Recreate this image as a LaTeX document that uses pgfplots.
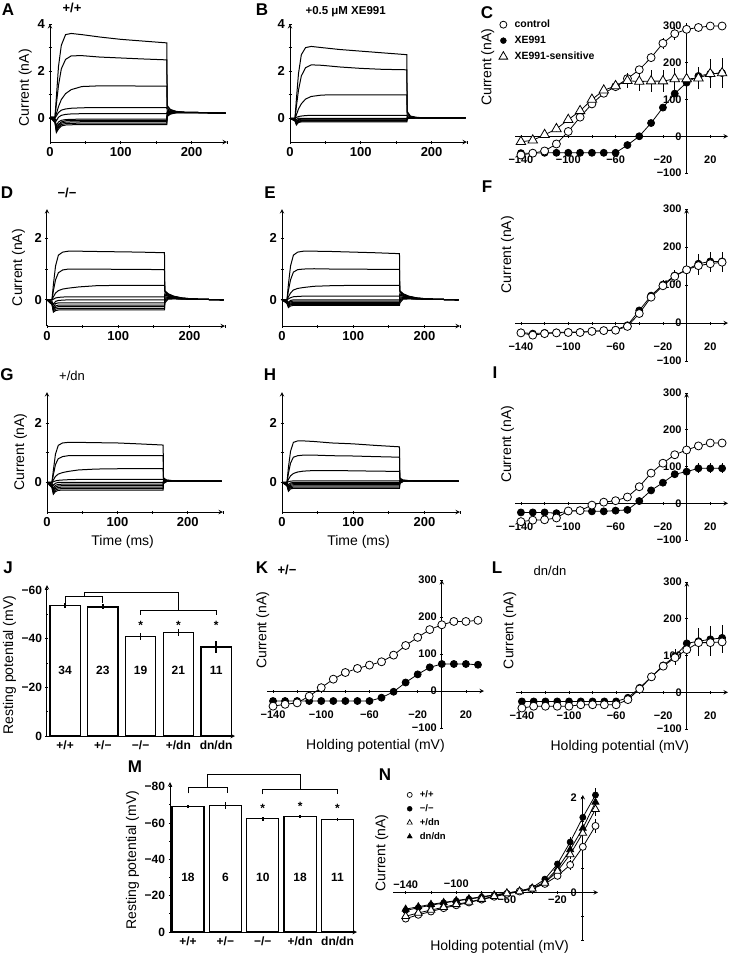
\documentclass[border=0pt]{standalone}
\usepackage{fontspec}
\setmainfont{Liberation Sans}
\usepackage{pgfplots}
\usepackage{pgfplotstable}
\pgfplotsset{compat=1.18}
\newcommand\lab{\fontsize{14}{14}\selectfont}
\newcommand\pl{\fontsize{17}{17}\selectfont\bfseries}
\newcommand\gt{\fontsize{13}{13}\selectfont\bfseries}
\newcommand\gr{\fontsize{13}{13}\selectfont}
\newcommand\nb{\fontsize{12}{12}\selectfont\bfseries}

\pgfplotsset{
  base/.style={scale only axis, anchor=south west, enlargelimits=false, clip=false,
    axis line style={line width=1pt,-}, tick style={line width=0.8pt,black},
    major tick length=3pt, minor tick length=2pt, tick align=inside},
  trace/.style={base, axis x line=bottom, axis y line=left, xmin=0, xmax=250,
    xtick={0,50,...,250}, xticklabels={0,,100,,200,},
    ticklabel style={font=\fontsize{13}{13}\selectfont\bfseries}},
  tr/.style={black, line width=1pt, no marks},
  iv/.style={base, axis lines=middle, xmin=-145, xmax=35, ymin=-100, ymax=300,
    xtick={-140,-120,...,20}, xticklabels={−140,,−100,,−60,,−20,,20},
    ytick={-100,0,100,200,300}, yticklabels={−100,0,100,200,300},
    hide obscured x ticks=false, hide obscured y ticks=false,
    ticklabel style={font=\fontsize{11}{11}\selectfont\bfseries},
    xticklabel style={yshift=-15pt}},
  eb/.style={error bars/y dir=both, error bars/y explicit, error bars/error mark=none,
    error bars/error bar style={line width=0.8pt}},
  oc/.style={black, line width=0.8pt, mark=*, mark size=4pt, mark options={fill=white, line width=0.8pt}, eb},
  fc/.style={black, line width=0.8pt, mark=*, mark size=3.5pt, mark options={fill=black}, eb},
  ot/.style={black, line width=0.8pt, mark=triangle*, mark size=5.5pt, mark options={fill=white, line width=0.8pt}, eb},
  bars/.style={base, axis x line=bottom, axis y line=left, xmin=-0.48, xmax=4.52,
    xtick={0,...,4}, xticklabels={+/+,+/−,−/−,+/dn,dn/dn}, xtick style={draw=none},
    ticklabel style={font=\fontsize{12}{12}\selectfont\bfseries}},
  bar/.style={ybar, bar shift=0pt, fill=white, draw=black, line width=1.3pt, eb, error bars/error bar style={line width=1.5pt}},
}

% ---------- trace tables ----------
\pgfplotstableread{
t a b c d e f g h i j
0 0.05 0.05 0.05 0.05 0.05 0.05 0.05 0.05 0.05 0.05
7 0.05 0.05 0.03 0.02 0 -0.05 -0.1 -0.12 -0.15 -0.18
9 0.9 0.6 0.2 0.1 -0.1 -0.3 -0.4 -0.48 -0.55 -0.6
12 2.2 1.4 0.5 0.25 0.05 -0.15 -0.25 -0.32 -0.38 -0.45
16 3.1 2.1 0.8 0.35 0.13 -0.08 -0.15 -0.2 -0.26 -0.32
22 3.55 2.5 1.05 0.4 0.17 -0.05 -0.1 -0.16 -0.22 -0.28
30 3.6 2.65 1.22 0.43 0.19 -0.04 -0.09 -0.15 -0.21 -0.27
45 3.55 2.66 1.35 0.45 0.2 -0.03 -0.08 -0.14 -0.2 -0.26
70 3.45 2.6 1.38 0.46 0.2 -0.03 -0.08 -0.14 -0.2 -0.26
100 3.35 2.56 1.38 0.46 0.2 -0.03 -0.08 -0.14 -0.2 -0.26
130 3.28 2.52 1.37 0.46 0.2 -0.03 -0.08 -0.14 -0.2 -0.26
165 3.2 2.48 1.37 0.46 0.2 -0.03 -0.08 -0.14 -0.2 -0.26
165.5 0.55 0.5 0.42 0.35 0.3 0.25 0.2 0.15 0.12 0.08
170 0.38 0.36 0.33 0.3 0.28 0.26 0.24 0.22 0.2 0.18
178 0.3 0.29 0.28 0.27 0.26 0.25 0.25 0.25 0.24 0.24
190 0.26 0.26 0.26 0.26 0.25 0.25 0.25 0.25 0.25 0.25
210 0.25 0.25 0.25 0.25 0.25 0.25 0.25 0.25 0.25 0.25
248 0.22 0.22 0.22 0.22 0.22 0.22 0.22 0.22 0.22 0.22
}\tA
\pgfplotstableread{
t a b c d e f g h i j
0 0 0 0 0 0 0 0 0 0 0
7 0 0 0 0 0 -0.03 -0.05 -0.07 -0.09 -0.11
9 0.8 0.5 0.15 0.04 -0.05 -0.12 -0.16 -0.2 -0.24 -0.28
12 1.9 1.2 0.4 0.08 0.01 -0.05 -0.08 -0.11 -0.14 -0.17
16 2.7 1.8 0.62 0.1 0 -0.03 -0.06 -0.09 -0.12 -0.15
22 3.0 2.15 0.82 0.12 0 -0.03 -0.06 -0.09 -0.12 -0.15
30 3.05 2.27 0.93 0.13 0 -0.03 -0.06 -0.09 -0.12 -0.15
45 3.0 2.25 0.99 0.13 0 -0.03 -0.06 -0.09 -0.12 -0.15
70 2.92 2.18 1.0 0.13 0 -0.03 -0.06 -0.09 -0.12 -0.15
100 2.85 2.12 1.0 0.13 0 -0.03 -0.06 -0.09 -0.12 -0.15
130 2.78 2.08 1.0 0.13 0 -0.03 -0.06 -0.09 -0.12 -0.15
165 2.7 2.06 1.0 0.13 0 -0.03 -0.06 -0.09 -0.12 -0.15
165.5 0.3 0.25 0.15 0.08 0.04 0.02 0.01 0 -0.01 -0.02
170 0.1 0.08 0.06 0.04 0.03 0.02 0.02 0.01 0.01 0.01
178 0.05 0.04 0.03 0.03 0.02 0.02 0.02 0.02 0.02 0.02
190 0.02 0.02 0.02 0.02 0.02 0.02 0.02 0.02 0.02 0.02
210 0.02 0.02 0.02 0.02 0.02 0.02 0.02 0.02 0.02 0.02
248 0.02 0.02 0.02 0.02 0.02 0.02 0.02 0.02 0.02 0.02
}\tB
\pgfplotstableread{
t a b c d e f g h i j
0 0 0 0 0 0 0 0 0 0 0
7 0 0 0 0 -0.05 -0.08 -0.1 -0.12 -0.14 -0.16
9 0.5 0.3 0.1 0.02 -0.15 -0.25 -0.3 -0.33 -0.36 -0.4
12 1.1 0.65 0.22 0.06 -0.05 -0.12 -0.2 -0.25 -0.3 -0.35
16 1.45 0.88 0.3 0.08 -0.02 -0.1 -0.17 -0.22 -0.28 -0.33
22 1.55 0.97 0.35 0.09 -0.01 -0.1 -0.17 -0.22 -0.28 -0.33
30 1.58 1.0 0.38 0.1 0 -0.1 -0.17 -0.22 -0.28 -0.33
45 1.58 1.0 0.42 0.1 0 -0.1 -0.17 -0.22 -0.28 -0.33
70 1.57 1.0 0.46 0.1 0 -0.1 -0.17 -0.22 -0.28 -0.33
100 1.56 0.99 0.47 0.1 0 -0.1 -0.17 -0.22 -0.28 -0.33
130 1.55 0.99 0.47 0.1 0 -0.1 -0.17 -0.22 -0.28 -0.33
165 1.53 0.98 0.47 0.1 0 -0.1 -0.17 -0.22 -0.28 -0.33
165.5 0.3 0.28 0.25 0.2 0.15 0.1 0.05 0 -0.05 -0.1
170 0.2 0.19 0.17 0.14 0.12 0.1 0.08 0.06 0.04 0.02
178 0.12 0.11 0.1 0.09 0.08 0.07 0.06 0.05 0.04 0.03
190 0.06 0.06 0.05 0.05 0.04 0.04 0.03 0.03 0.03 0.02
210 0.02 0.02 0.02 0.02 0.02 0.02 0.02 0.02 0.02 0.02
248 0 0 0 0 0 0 0 0 0 0
}\tD
\pgfplotstableread{
t a b c d e f g h i j
0 0 0 0 0 0 0 0 0 0 0
7 0 0 0 0 -0.02 -0.04 -0.06 -0.08 -0.1 -0.12
9 0.5 0.3 0.1 0.03 -0.08 -0.12 -0.15 -0.18 -0.22 -0.25
12 1.1 0.65 0.22 0.07 -0.02 -0.06 -0.1 -0.13 -0.16 -0.2
16 1.45 0.9 0.32 0.1 0 -0.04 -0.08 -0.12 -0.15 -0.18
22 1.55 0.98 0.37 0.11 0 -0.04 -0.08 -0.12 -0.15 -0.18
30 1.58 1.0 0.4 0.12 0 -0.04 -0.08 -0.12 -0.15 -0.18
45 1.58 1.01 0.44 0.12 0 -0.04 -0.08 -0.12 -0.15 -0.18
70 1.57 1.0 0.46 0.12 0 -0.04 -0.08 -0.12 -0.15 -0.18
100 1.55 1.0 0.47 0.12 0 -0.04 -0.08 -0.12 -0.15 -0.18
130 1.53 0.99 0.47 0.12 0 -0.04 -0.08 -0.12 -0.15 -0.18
165 1.5 0.99 0.47 0.12 0 -0.04 -0.08 -0.12 -0.15 -0.18
165.5 0.3 0.28 0.25 0.2 0.15 0.1 0.05 0 -0.05 -0.1
170 0.2 0.19 0.17 0.14 0.12 0.1 0.08 0.06 0.04 0.02
178 0.12 0.11 0.1 0.09 0.08 0.07 0.06 0.05 0.04 0.03
190 0.06 0.06 0.05 0.05 0.04 0.04 0.03 0.03 0.03 0.02
210 0.02 0.02 0.02 0.02 0.02 0.02 0.02 0.02 0.02 0.02
248 0 0 0 0 0 0 0 0 0 0
}\tE
\pgfplotstableread{
t a b c d e f g h i j
0 0 0 0 0 0 0 0 0 0 0
7 0 0 0 0 -0.03 -0.06 -0.09 -0.12 -0.15 -0.18
9 0.4 0.25 0.08 0.02 -0.1 -0.2 -0.26 -0.3 -0.35 -0.4
12 0.95 0.6 0.2 0.05 -0.03 -0.1 -0.16 -0.21 -0.26 -0.31
16 1.25 0.8 0.28 0.07 0 -0.07 -0.12 -0.17 -0.22 -0.27
22 1.33 0.87 0.33 0.08 0 -0.06 -0.11 -0.16 -0.21 -0.26
30 1.35 0.9 0.37 0.09 0 -0.06 -0.11 -0.16 -0.21 -0.26
45 1.35 0.9 0.42 0.1 0 -0.06 -0.11 -0.16 -0.21 -0.26
70 1.34 0.9 0.45 0.1 0 -0.06 -0.11 -0.16 -0.21 -0.26
100 1.33 0.9 0.46 0.1 0 -0.06 -0.11 -0.16 -0.21 -0.26
130 1.3 0.9 0.46 0.1 0 -0.06 -0.11 -0.16 -0.21 -0.26
165 1.26 0.9 0.46 0.1 0 -0.06 -0.11 -0.16 -0.21 -0.26
165.5 0.15 0.12 0.1 0.08 0.06 0.04 0.02 0 -0.02 -0.04
170 0.08 0.07 0.07 0.06 0.05 0.05 0.04 0.04 0.03 0.03
178 0.06 0.06 0.05 0.05 0.05 0.05 0.05 0.05 0.05 0.05
190 0.05 0.05 0.05 0.05 0.05 0.05 0.05 0.05 0.05 0.05
210 0.05 0.05 0.05 0.05 0.05 0.05 0.05 0.05 0.05 0.05
248 0.04 0.04 0.04 0.04 0.04 0.04 0.04 0.04 0.04 0.04
}\tG
\pgfplotstableread{
t a b c d e f g h i j
0 0 0 0 0 0 0 0 0 0 0
7 0 0 0 0 -0.02 -0.04 -0.06 -0.08 -0.1 -0.12
9 0.5 0.3 0.1 0.02 -0.08 -0.14 -0.18 -0.22 -0.26 -0.3
12 1.05 0.65 0.22 0.04 -0.02 -0.06 -0.1 -0.14 -0.18 -0.22
16 1.35 0.85 0.3 0.05 0 -0.04 -0.08 -0.12 -0.16 -0.2
22 1.4 0.9 0.35 0.05 0 -0.04 -0.08 -0.12 -0.16 -0.2
30 1.4 0.92 0.38 0.05 0 -0.04 -0.08 -0.12 -0.16 -0.2
45 1.38 0.92 0.4 0.05 0 -0.04 -0.08 -0.12 -0.16 -0.2
70 1.33 0.9 0.4 0.05 0 -0.04 -0.08 -0.12 -0.16 -0.2
100 1.3 0.89 0.39 0.05 0 -0.04 -0.08 -0.12 -0.16 -0.2
130 1.25 0.87 0.38 0.05 0 -0.04 -0.08 -0.12 -0.16 -0.2
165 1.2 0.85 0.37 0.05 0 -0.04 -0.08 -0.12 -0.16 -0.2
165.5 0.15 0.12 0.1 0.08 0.06 0.04 0.02 0 -0.02 -0.04
170 0.08 0.07 0.07 0.06 0.05 0.05 0.04 0.04 0.03 0.03
178 0.06 0.06 0.05 0.05 0.05 0.05 0.05 0.05 0.05 0.05
190 0.05 0.05 0.05 0.05 0.05 0.05 0.05 0.05 0.05 0.05
210 0.05 0.05 0.05 0.05 0.05 0.05 0.05 0.05 0.05 0.05
248 0.04 0.04 0.04 0.04 0.04 0.04 0.04 0.04 0.04 0.04
}\tH

% ---------- I-V tables ----------
\pgfplotstableread{
V c ce x xe s se
-140 -51 5 -46 3 -15 6
-130 -46 5 -46 3 -11 6
-120 -40 5 -45 3 4 6
-110 -21 8 -45 3 20 8
-100 13 8 -45 3 45 10
-90 52 8 -45 3 69 10
-80 88 10 -45 3 100 12
-70 117 10 -45 3 125 15
-60 135 10 -45 3 137 15
-50 157 10 -24 3 151 20
-40 181 10 0 3 149 25
-30 214 12 36 4 150 30
-20 253 15 78 5 150 30
-10 279 18 116 6 156 30
0 291 18 146 8 156 30
10 296 12 164 10 158 30
20 300 8 170 12 170 40
30 300 8 172 12 172 40
}\tC
\pgfplotstableread{
V c ce f fe
-140 -26 6 -25 5
-130 -32 6 -28 5
-120 -28 6 -26 5
-110 -26 6 -25 5
-100 -25 6 -24 5
-90 -25 6 -24 5
-80 -22 6 -22 5
-70 -20 6 -20 5
-60 -19 6 -18 5
-50 -9 6 -6 5
-40 25 8 33 8
-30 68 10 72 10
-20 98 12 101 12
-10 123 15 125 15
0 140 20 140 20
10 151 25 156 25
20 156 22 162 25
30 160 25 162 25
}\tF
\pgfplotstableread{
V c ce f fe
-140 -50 6 -25 5
-130 -46 6 -25 5
-120 -45 6 -25 5
-110 -40 6 -27 5
-100 -21 5 -22 5
-90 -20 5 -20 5
-80 -5 5 -22 5
-70 3 5 -22 5
-60 7 5 -20 5
-50 17 5 -18 5
-40 45 6 6 5
-30 82 8 35 6
-20 109 8 56 8
-10 132 8 79 10
0 145 8 86 12
10 156 8 95 14
20 164 8 95 14
30 164 8 95 14
}\tI
\pgfplotstableread{
V c ce f fe
-140 -41 8 -27 6
-130 -36 8 -27 6
-120 -32 8 -27 6
-110 -14 8 -27 6
-100 9 8 -27 6
-90 32 8 -27 6
-80 50 8 -27 6
-70 61 10 -27 6
-60 70 10 -27 6
-50 79 10 -18 6
-40 97 10 -2 5
-30 123 10 23 5
-20 145 10 45 5
-10 166 10 64 5
0 179 10 73 6
10 188 10 73 6
20 188 10 73 6
30 191 10 71 6
}\tK
\pgfplotstableread{
V c ce f fe
-140 -43 6 -25 6
-130 -38 6 -25 6
-120 -38 6 -25 6
-110 -38 6 -25 6
-100 -38 6 -25 6
-90 -34 6 -25 6
-80 -34 6 -25 6
-70 -34 6 -25 6
-60 -34 6 -25 6
-50 -20 6 -15 6
-40 9 6 12 6
-30 42 8 42 8
-20 71 10 73 10
-10 94 20 98 20
0 116 25 133 30
10 135 35 139 35
20 135 35 144 35
30 137 30 148 35
}\tL
\pgfplotstableread{
V a ae b be c ce d de
-140 -0.55 0.05 -0.38 0.05 -0.5 0.05 -0.35 0.05
-130 -0.47 0.05 -0.32 0.05 -0.43 0.05 -0.3 0.05
-120 -0.4 0.04 -0.27 0.04 -0.37 0.04 -0.25 0.04
-110 -0.33 0.04 -0.22 0.04 -0.31 0.04 -0.21 0.04
-100 -0.27 0.03 -0.18 0.03 -0.25 0.03 -0.17 0.03
-90 -0.21 0.03 -0.14 0.03 -0.2 0.03 -0.13 0.03
-80 -0.15 0.03 -0.1 0.03 -0.14 0.03 -0.09 0.03
-70 -0.09 0.03 -0.06 0.03 -0.08 0.03 -0.05 0.03
-60 -0.03 0.03 -0.02 0.03 -0.02 0.03 -0.01 0.03
-50 0.02 0.03 0.03 0.03 0.02 0.03 0.03 0.03
-40 0.08 0.03 0.1 0.03 0.08 0.03 0.09 0.03
-30 0.18 0.04 0.28 0.04 0.2 0.04 0.22 0.04
-20 0.35 0.06 0.6 0.06 0.45 0.06 0.5 0.06
-10 0.58 0.1 1.06 0.1 0.8 0.1 0.9 0.1
0 0.96 0.12 1.58 0.12 1.25 0.12 1.35 0.12
10 1.4 0.15 2.05 0.15 1.75 0.15 1.9 0.15
}\tN

\begin{document}
\begin{tikzpicture}
\useasboundingbox (0,0) rectangle (732pt,-956pt);

% ===== A =====
\begin{axis}[trace, at={(50pt,-142pt)}, width=177pt, height=118pt, ymin=-1, ymax=4,
  ytick={0,1,2,3,4}, yticklabels={0,,2,,4}]
\pgfplotsinvokeforeach{a,b,c,d,e,f,g,h,i,j}{\addplot[tr] table[x=t,y=#1]{\tA};}
\node[rotate=90,font=\lab] at (rel axis cs:-0.14,0.46) {Current (nA)};
\end{axis}
% ===== B =====
\begin{axis}[trace, at={(290pt,-142pt)}, width=177pt, height=118pt, ymin=-1, ymax=4,
  ytick={0,1,2,3,4}, yticklabels={0,,2,,4}]
\pgfplotsinvokeforeach{a,b,c,d,e,f,g,h,i,j}{\addplot[tr] table[x=t,y=#1]{\tB};}
\end{axis}
% ===== D =====
\begin{axis}[trace, at={(47pt,-326pt)}, width=178pt, height=117pt, ymin=-0.85, ymax=2.95,
  ytick={0,1,2}, yticklabels={0,,2}]
\pgfplotsinvokeforeach{a,b,c,d,e,f,g,h,i,j}{\addplot[tr] table[x=t,y=#1]{\tD};}
\node[rotate=90,font=\lab] at (rel axis cs:-0.16,0.5) {Current (nA)};
\end{axis}
% ===== E =====
\begin{axis}[trace, at={(282pt,-326pt)}, width=178pt, height=117pt, ymin=-0.85, ymax=2.95,
  ytick={0,1,2}, yticklabels={0,,2}]
\pgfplotsinvokeforeach{a,b,c,d,e,f,g,h,i,j}{\addplot[tr] table[x=t,y=#1]{\tE};}
\end{axis}
% ===== G =====
\begin{axis}[trace, at={(47pt,-512pt)}, width=176pt, height=120pt, ymin=-1, ymax=3.05,
  ytick={0,1,2}, yticklabels={0,,2}]
\pgfplotsinvokeforeach{a,b,c,d,e,f,g,h,i,j}{\addplot[tr] table[x=t,y=#1]{\tG};}
\node[rotate=90,font=\lab] at (rel axis cs:-0.15,0.5) {Current (nA)};
\node[font=\lab] at (rel axis cs:0.43,-0.25) {Time (ms)};
\end{axis}
% ===== H =====
\begin{axis}[trace, at={(282pt,-512pt)}, width=178pt, height=120pt, ymin=-1, ymax=3.05,
  ytick={0,1,2}, yticklabels={0,,2}]
\pgfplotsinvokeforeach{a,b,c,d,e,f,g,h,i,j}{\addplot[tr] table[x=t,y=#1]{\tH};}
\node[font=\lab] at (rel axis cs:0.43,-0.25) {Time (ms)};
\end{axis}

% ===== C =====
\begin{axis}[iv, at={(515pt,-173pt)}, width=213pt, height=147pt,
  legend style={draw=none, fill=none, at={(rel axis cs:-0.08,1.055)}, anchor=north west,
    font=\fontsize{10.5}{10.5}\selectfont\bfseries, row sep=3pt, inner sep=0pt,
    cells={anchor=west}},
  legend image code/.code={\draw[#1] plot coordinates {(0pt,0pt)}; \path (-5pt,0pt) (9pt,0pt);}]
\addlegendimage{only marks, mark=*, mark size=3.5pt, mark options={fill=white, line width=0.8pt}}
\addlegendentry{control}
\addlegendimage{only marks, mark=*, mark size=3pt, mark options={fill=black}}
\addlegendentry{XE991}
\addlegendimage{only marks, mark=triangle*, mark size=5pt, mark options={fill=white, line width=0.8pt}}
\addlegendentry{XE991-sensitive}
\addplot[fc, forget plot] table[x=V,y=x,y error=xe]{\tC};
\addplot[oc, forget plot] table[x=V,y=c,y error=ce]{\tC};
\addplot[ot, forget plot] table[x=V,y=s,y error=se]{\tC};
\node[rotate=90,font=\lab] at (rel axis cs:-0.128,0.72) {Current (nA)};
\end{axis}
% ===== F =====
\begin{axis}[iv, at={(515pt,-361pt)}, width=213pt, height=152pt]
\addplot[fc] table[x=V,y=f,y error=fe]{\tF};
\addplot[oc] table[x=V,y=c,y error=ce]{\tF};
\node[rotate=90,font=\lab] at (rel axis cs:-0.035,0.7) {Current (nA)};
\end{axis}
% ===== I =====
\begin{axis}[iv, at={(515pt,-540pt)}, width=213pt, height=147pt]
\addplot[fc] table[x=V,y=f,y error=fe]{\tI};
\addplot[oc] table[x=V,y=c,y error=ce]{\tI};
\node[rotate=90,font=\lab] at (rel axis cs:-0.035,0.65) {Current (nA)};
\end{axis}
% ===== K =====
\begin{axis}[iv, at={(267pt,-728pt)}, width=217pt, height=148pt]
\addplot[fc] table[x=V,y=f,y error=fe]{\tK};
\addplot[oc] table[x=V,y=c,y error=ce]{\tK};
\node[rotate=90,font=\lab] at (rel axis cs:-0.02,0.66) {Current (nA)};
\node[font=\lab] at (rel axis cs:0.5,-0.12) {Holding potential (mV)};
\end{axis}
% ===== L =====
\begin{axis}[iv, at={(516pt,-729pt)}, width=212pt, height=147pt]
\addplot[fc] table[x=V,y=f,y error=fe]{\tL};
\addplot[oc] table[x=V,y=c,y error=ce]{\tL};
\node[rotate=90,font=\lab] at (rel axis cs:-0.03,0.67) {Current (nA)};
\node[font=\lab] at (rel axis cs:0.49,-0.12) {Holding potential (mV)};
\end{axis}

% ===== J =====
\begin{axis}[bars, at={(47pt,-736pt)}, width=188pt, height=151pt, xmax=4.5, ymin=0, ymax=62,
  ytick={0,20,40,60}, yticklabels={0,−20,−40,−60}, minor ytick={10,30,50}]
\addplot[bar, bar width=0.8] table[x=x,y=v,y error=e]{
x v e
0 53.5 1
1 53 1
2 41 1.5
3 42.5 1.5
4 36.5 2.5
};
\draw[line width=0.9pt] (axis cs:0,54.6) -- (axis cs:0,57.1) -- (axis cs:1,57.1) -- (axis cs:1,54.6);
\draw[line width=0.9pt] (axis cs:0.5,57.1) -- (axis cs:0.5,59.1) -- (axis cs:3,59.1) -- (axis cs:3,51.7);
\draw[line width=0.9pt] (axis cs:2,49.7) -- (axis cs:2,51.7) -- (axis cs:4,51.7) -- (axis cs:4,49.7);
\node[font=\nb] at (axis cs:2,45.5) {*};
\node[font=\nb] at (axis cs:3,45.5) {*};
\node[font=\nb] at (axis cs:4,45.5) {*};
\node[font=\nb] at (axis cs:0,27) {34};
\node[font=\nb] at (axis cs:1,27) {23};
\node[font=\nb] at (axis cs:2,27) {19};
\node[font=\nb] at (axis cs:3,27) {21};
\node[font=\nb] at (axis cs:4,27) {11};
\node[rotate=90,font=\lab] at (rel axis cs:-0.2,0.47) {Resting potential (mV)};
\end{axis}

% ===== M =====
\begin{axis}[bars, at={(170pt,-932pt)}, width=187pt, height=150pt, ymin=0, ymax=82.5,
  ytick={0,20,40,60,80}, yticklabels={0,−20,−40,−60,−80}, minor ytick={10,30,50,70}]
\addplot[bar, bar width=0.86] table[x=x,y=v,y error=e]{
x v e
0 69 1
1 69.5 2
2 62.3 1
3 63.5 1
4 61.8 0.8
};
\draw[line width=0.9pt] (axis cs:0,76.2) -- (axis cs:0,79.5) -- (axis cs:1.05,79.5) -- (axis cs:1.05,76.2);
\draw[line width=0.9pt] (axis cs:0.52,79.5) -- (axis cs:0.52,86.7) -- (axis cs:3.02,86.7) -- (axis cs:3.02,78.5);
\draw[line width=0.9pt] (axis cs:2,75.7) -- (axis cs:2,78.5) -- (axis cs:4,78.5) -- (axis cs:4,75.7);
\node[font=\nb] at (axis cs:2,68) {*};
\node[font=\nb] at (axis cs:3,69) {*};
\node[font=\nb] at (axis cs:4,68) {*};
\node[font=\nb] at (axis cs:0,30) {18};
\node[font=\nb] at (axis cs:1,30) {6};
\node[font=\nb] at (axis cs:2,30) {10};
\node[font=\nb] at (axis cs:3,30) {18};
\node[font=\nb] at (axis cs:4,30) {11};
\node[rotate=90,font=\lab] at (rel axis cs:-0.2,0.48) {Resting potential (mV)};
\end{axis}

% ===== N =====
\begin{axis}[base, axis lines=middle, at={(393pt,-940pt)}, width=205pt, height=145pt,
  xmin=-150, xmax=12, ymin=-1, ymax=2.05, xtick={-140,-120,...,0}, xticklabels={},
  ytick={-1,-0.5,...,2}, yticklabels={}, hide obscured x ticks=false, hide obscured y ticks=false,
  legend style={draw=none, fill=none, at={(rel axis cs:0.06,1.045)}, anchor=north west,
    font=\fontsize{9.5}{9.5}\selectfont\bfseries, row sep=1.5pt, inner sep=0pt, cells={anchor=west}},
  legend image code/.code={\draw[#1] plot coordinates {(0pt,0pt)}; \path (-4pt,0pt) (8pt,0pt);}]
\addlegendimage{only marks, mark=*, mark size=2.5pt, mark options={fill=white, line width=0.7pt}}
\addlegendentry{+/+}
\addlegendimage{only marks, mark=*, mark size=2.5pt, mark options={fill=black}}
\addlegendentry{−/−}
\addlegendimage{only marks, mark=triangle*, mark size=3pt, mark options={fill=white, line width=0.7pt}}
\addlegendentry{+/dn}
\addlegendimage{only marks, mark=triangle*, mark size=3pt, mark options={fill=black}}
\addlegendentry{dn/dn}
\addplot[fc, mark size=3pt, forget plot] table[x=V,y=b,y error=be]{\tN};
\addplot[black, line width=0.8pt, mark=triangle*, mark size=4pt, mark options={fill=black}, eb, forget plot] table[x=V,y=d,y error=de]{\tN};
\addplot[oc, mark size=3.5pt, forget plot] table[x=V,y=a,y error=ae]{\tN};
\addplot[ot, mark size=4.5pt, forget plot] table[x=V,y=c,y error=ce]{\tN};
\node[font=\fontsize{11}{11}\selectfont\bfseries, anchor=south] at (axis cs:-140,0) {−140};
\node[font=\fontsize{11}{11}\selectfont\bfseries, anchor=south] at (axis cs:-100,0.03) {−100};
\node[font=\fontsize{11}{11}\selectfont\bfseries, anchor=north] at (axis cs:-60,0) {−60};
\node[font=\fontsize{11}{11}\selectfont\bfseries, anchor=north] at (axis cs:-20,0) {−20};
\node[font=\fontsize{11}{11}\selectfont\bfseries, anchor=east] at (axis cs:-2,0) {0};
\node[font=\fontsize{11}{11}\selectfont\bfseries, anchor=east] at (axis cs:-2,2) {2};
\node[rotate=90,font=\lab] at (rel axis cs:-0.055,0.6) {Current (nA)};
\node[font=\lab] at (rel axis cs:0.52,-0.05) {Holding potential (mV)};
\end{axis}

% ===== panel letters and titles =====
\node[font=\pl] at (8pt,-10pt) {A};
\node[font=\gt] at (72pt,-8pt) {+/+};
\node[font=\pl] at (262pt,-10pt) {B};
\node[font=\fontsize{11.5}{11.5}\selectfont\bfseries, anchor=west] at (302pt,-12pt) {+0.5 μM XE991};
\node[font=\pl] at (487pt,-13pt) {C};
\node[font=\pl] at (7pt,-193pt) {D};
\node[font=\gt] at (67pt,-193pt) {−/−};
\node[font=\pl] at (270pt,-193pt) {E};
\node[font=\pl] at (487pt,-187pt) {F};
\node[font=\pl] at (7pt,-375pt) {G};
\node[font=\gr] at (72pt,-376pt) {+/dn};
\node[font=\pl] at (270pt,-375pt) {H};
\node[font=\pl] at (495pt,-373pt) {I};
\node[font=\pl] at (8pt,-568pt) {J};
\node[font=\pl] at (262pt,-568pt) {K};
\node[font=\gt] at (287pt,-570pt) {+/−};
\node[font=\pl] at (497pt,-568pt) {L};
\node[font=\gr] at (550pt,-571pt) {dn/dn};
\node[font=\pl] at (135pt,-767pt) {M};
\node[font=\pl] at (385pt,-775pt) {N};
\end{tikzpicture}
\end{document}
